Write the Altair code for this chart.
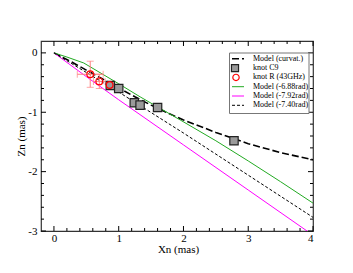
import altair as alt
import pandas as pd

# ---------------- data ----------------
curv_x = [0.0, 0.25, 0.5, 0.75, 1.0, 1.25, 1.5, 1.75, 2.0, 2.5, 3.0, 3.5, 4.0]
curv_y = [0.0, -0.14, -0.29, -0.44, -0.59, -0.74, -0.88, -1.01, -1.13, -1.34, -1.53, -1.68, -1.80]

m688_x = [0.0, 0.2, 0.46, 1.0, 1.33, 1.95, 2.5, 3.0, 3.5, 4.0]
m688_y = [0.0, -0.07, -0.17, -0.52, -0.74, -1.13, -1.48, -1.82, -2.17, -2.53]

m792_x = [0.0, 0.5, 1.0, 2.0, 3.0, 4.0]
m792_y = [0.0, -0.40, -0.79, -1.55, -2.31, -3.07]

m740_x = [0.0, 0.5, 1.0, 2.0, 3.0, 4.0]
m740_y = [0.0, -0.33, -0.66, -1.35, -2.06, -2.77]

c9_x = [0.87, 1.00, 1.24, 1.33, 1.60, 2.78]
c9_y = [-0.55, -0.60, -0.84, -0.88, -0.92, -1.48]

r_x = [0.56, 0.70, 0.86]
r_y = [-0.36, -0.48, -0.54]
r_xerr = [0.20, 0.09, 0.04]
r_yerr = [0.22, 0.12, 0.05]

x_major = [0, 1, 2, 3, 4]
x_minor = [0.2, 0.4, 0.6, 0.8, 1.2, 1.4, 1.6, 1.8, 2.2, 2.4, 2.6, 2.8, 3.2, 3.4, 3.6, 3.8]
y_major = [0, -1, -2, -3]
y_minor = [-0.2, -0.4, -0.6, -0.8, -1.2, -1.4, -1.6, -1.8, -2.2, -2.4, -2.6, -2.8]

legend_labels = ["Model (curvat.)", "knot C9", "knot R (43GHz)",
                 "Model (-6.88rad)", "Model (-7.92rad)", "Model (-7.40rad)"]

# ---------------- styling ----------------
W, H = 272, 190
FONT = "Liberation Serif"
GREEN = "#22aa22"
MAGENTA = "#ff00ff"
RED = "#ff0000"
ERR = "#ff8080"

XS = alt.Scale(domain=[-0.2, 4], nice=False, zero=False)
YS = alt.Scale(domain=[-3, 0.2], nice=False, zero=False)

xaxis = alt.Axis(values=x_major, labelExpr="'' + datum.value", ticks=False, domain=False,
                 grid=False, labelFont=FONT, labelFontSize=11, labelColor="black",
                 labelBaseline="alphabetic", labelPadding=10,
                 title="Xn (mas)", titleFont=FONT, titleFontSize=11, titleFontWeight="normal",
                 titleColor="black", titleX=137, titleY=21, titleBaseline="alphabetic")
yaxis = alt.Axis(values=y_major, labelExpr="'' + datum.value", ticks=False, domain=False,
                 grid=False, labelFont=FONT, labelFontSize=11, labelColor="black",
                 labelPadding=4,
                 title="Zn (mas)", titleFont=FONT, titleFontSize=11, titleFontWeight="normal",
                 titleColor="black", titleX=-20, titleY=95, titleAngle=270,
                 titleBaseline="middle", titleAlign="center")


def X(f):
    return alt.X(f, scale=XS, axis=xaxis, title="Xn (mas)")


def Y(f):
    return alt.Y(f, scale=YS, axis=yaxis, title="Zn (mas)")


def line_layer(xs, ys, color, dash=None, width=1.0):
    df = pd.DataFrame({"x": xs, "y": ys, "o": range(len(xs))})
    kw = dict(color=color, strokeWidth=width, clip=True)
    if dash:
        kw["strokeDash"] = dash
    return alt.Chart(df).mark_line(**kw).encode(x=X("x:Q"), y=Y("y:Q"), order="o:Q")


layers = []


def xticks(vals, length):
    df = pd.DataFrame({"v": vals})
    b = alt.Chart(df).mark_rule(color="black", strokeWidth=1).encode(
        x=X("v:Q"), y=alt.value(H), y2=alt.value(H - length))
    t = alt.Chart(df).mark_rule(color="black", strokeWidth=1).encode(
        x=X("v:Q"), y=alt.value(0), y2=alt.value(length))
    return [b, t]


def yticks(vals, length):
    df = pd.DataFrame({"v": vals})
    l = alt.Chart(df).mark_rule(color="black", strokeWidth=1).encode(
        y=Y("v:Q"), x=alt.value(0), x2=alt.value(length))
    r = alt.Chart(df).mark_rule(color="black", strokeWidth=1).encode(
        y=Y("v:Q"), x=alt.value(W), x2=alt.value(W - length))
    return [l, r]


layers.append(line_layer(curv_x, curv_y, "black", dash=[7, 3], width=1.6))
layers += xticks(x_major, 5) + xticks(x_minor, 3) + yticks(y_major, 5) + yticks(y_minor, 3)
layers.append(line_layer(m792_x, m792_y, MAGENTA))
layers.append(line_layer(m688_x, m688_y, GREEN))
layers.append(line_layer(m740_x, m740_y, "black", dash=[3, 2], width=1.0))

# error bars for knot R
err = pd.DataFrame({"x": r_x, "y": r_y, "xe": r_xerr, "ye": r_yerr})
err["x0"] = err.x - err.xe
err["x1"] = err.x + err.xe
err["y0"] = err.y - err.ye
err["y1"] = err.y + err.ye
eb = alt.Chart(err)
layers.append(eb.mark_rule(color=ERR, strokeWidth=1).encode(
    x=X("x0:Q"), x2="x1:Q", y=Y("y:Q")))
layers.append(eb.mark_rule(color=ERR, strokeWidth=1).encode(
    y=Y("y0:Q"), y2="y1:Q", x=X("x:Q")))
for cx in ["x0", "x1"]:
    layers.append(eb.mark_tick(color=ERR, orient="vertical", size=7, thickness=1).encode(
        x=X(f"{cx}:Q"), y=Y("y:Q")))
for cy in ["y0", "y1"]:
    layers.append(eb.mark_tick(color=ERR, orient="horizontal", size=7, thickness=1).encode(
        x=X("x:Q"), y=Y(f"{cy}:Q")))

# knot C9 squares
c9 = pd.DataFrame({"x": c9_x, "y": c9_y})
layers.append(alt.Chart(c9).mark_point(shape="square", size=70, filled=True, fill="#9a9a9a",
                                        stroke="#222222", strokeWidth=1.2, opacity=1).encode(
    x=X("x:Q"), y=Y("y:Q")))

# knot R circles
rr = pd.DataFrame({"x": r_x, "y": r_y})
layers.append(alt.Chart(rr).mark_point(shape="circle", size=45, filled=False, stroke=RED,
                                        strokeWidth=1.2, opacity=1).encode(
    x=X("x:Q"), y=Y("y:Q")))

# ---------------- legend ----------------
one = pd.DataFrame({"a": [0]})
LX0, LX1, LY0, LY1 = 188.5, 268, 12, 72.5
ROW0, DROW = 17.8, 9.3
SX0, SX1, SXC, TX = 191, 203, 196, 212

layers.append(alt.Chart(one).mark_rect(fill="white", stroke="#777777", strokeWidth=1).encode(
    x=alt.value(LX0), x2=alt.value(LX1), y=alt.value(LY0), y2=alt.value(LY1)))

sym_styles = [
    ("rule", dict(color="black", strokeWidth=1.6, strokeDash=[7, 3])),
    ("square", None),
    ("circle", None),
    ("rule", dict(color=GREEN, strokeWidth=1)),
    ("rule", dict(color=MAGENTA, strokeWidth=1)),
    ("rule", dict(color="black", strokeWidth=1, strokeDash=[3, 2])),
]
for i, (kind, st) in enumerate(sym_styles):
    yy = ROW0 + DROW * i
    if kind == "rule":
        layers.append(alt.Chart(one).mark_rule(**st).encode(
            x=alt.value(SX0), x2=alt.value(SX1), y=alt.value(yy)))
    elif kind == "square":
        layers.append(alt.Chart(one).mark_point(shape="square", size=50, filled=True,
                                                 fill="#9a9a9a", stroke="#222222",
                                                 strokeWidth=1.2, opacity=1).encode(
            x=alt.value(SXC - 2), y=alt.value(yy)))
    else:
        layers.append(alt.Chart(one).mark_point(shape="circle", size=40, filled=False,
                                                 stroke=RED, strokeWidth=1.2, opacity=1).encode(
            x=alt.value(SXC - 1), y=alt.value(yy)))

leg = pd.DataFrame({"label": legend_labels, "row": list(range(len(legend_labels)))})
layers.append(
    alt.Chart(leg)
    .transform_calculate(off=f"datum.row * {DROW}")
    .mark_text(font=FONT, fontSize=8, align="left", baseline="middle", color="black")
    .encode(x=alt.value(TX), y=alt.value(ROW0),
            yOffset=alt.YOffset("off:Q", scale=None),
            text="label:N")
)

chart = alt.layer(*layers).properties(
    width=W, height=H, autosize="none",
    padding={"left": 33, "top": 33, "right": 32, "bottom": 34},
    background="white",
).configure_view(stroke="#333333", strokeWidth=1.2)

chart.save("out.html", embed_options={"renderer": "svg", "actions": False})
